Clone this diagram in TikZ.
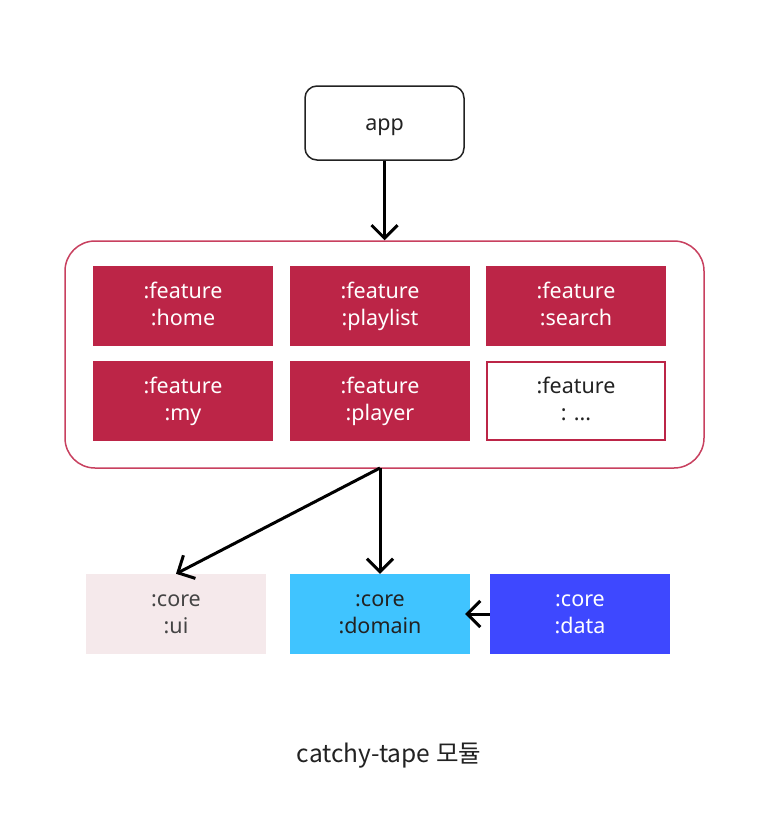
\documentclass[tikz,border=0pt]{standalone}
\usepackage{fontspec}
\setmainfont{Noto Sans}
\newfontfamily\krfont{Noto Sans CJK KR}
\usetikzlibrary{arrows.meta}
\definecolor{crim}{HTML}{BC2547}
\definecolor{crimline}{HTML}{C8405F}
\definecolor{uipink}{HTML}{F5E9EB}
\definecolor{domblue}{HTML}{40C4FF}
\definecolor{datablue}{HTML}{3E48FF}
\definecolor{txtdark}{HTML}{222222}
\definecolor{txtgray}{HTML}{444444}
\newcommand{\tline}[1]{\rule[-5pt]{0pt}{22pt}#1}
\begin{document}
\begin{tikzpicture}[x=1pt,y=-1pt,
  box/.style={minimum width=180pt,minimum height=80pt,inner sep=0pt,align=center,font=\fontsize{21.5}{27}\selectfont},
  featbox/.style={box,fill=crim,text=white},
  conn/.style={line width=3pt,-{Straight Barb[length=13pt,width=26pt,line width=3pt]}}]
\useasboundingbox (0,0) rectangle (770,822);
\fill[white] (0,0) rectangle (770,822);
\node[draw=txtdark,line width=1.5pt,rounded corners=12pt,minimum width=159pt,minimum height=74pt,inner sep=0pt,font=\fontsize{21.5}{27}\selectfont,text=txtdark] (app) at (384.5,123) {\rule[-2pt]{0pt}{22pt}app};
\node[draw=crimline,line width=1.5pt,rounded corners=30pt,minimum width=639pt,minimum height=227pt] (cont) at (384.5,354.5) {};
\node[featbox] (home) at (183,306) {\tline{:feature}\\\tline{:home}};
\node[featbox] (playlist) at (380,306) {\tline{:feature}\\\tline{:playlist}};
\node[featbox] (search) at (576,306) {\tline{:feature}\\\tline{:search}};
\node[featbox] (my) at (183,401) {\tline{:feature}\\\tline{:my}};
\node[featbox] (player) at (380,401) {\tline{:feature}\\\tline{:player}};
\node[box,draw=crim,line width=1.5pt,fill=white,text=txtdark,minimum width=178pt,minimum height=78pt] (etc) at (576,401) {\tline{:feature}\\\tline{: ...}};
\node[box,fill=uipink,text=txtgray] (ui) at (176,614) {\tline{:core}\\\tline{:ui}};
\node[box,fill=domblue,text=txtdark] (domain) at (380,614) {\tline{:core}\\\tline{:domain}};
\node[box,fill=datablue,text=white] (data) at (580,614) {\tline{:core}\\\tline{:data}};
\coordinate (cb) at (380,468);
\draw[conn] (app.south) -- (app.south |- cont.north);
\draw[conn] (cb) -- (ui.north);
\draw[conn] (cb) -- (domain.north);
\draw[conn] (data.west) -- ([xshift=-5pt]domain.east);
\node[font=\krfont\fontsize{24.5}{28}\selectfont,text=txtdark] (cap) at (389,756) {catchy-tape 모듈};
\end{tikzpicture}
\end{document}
